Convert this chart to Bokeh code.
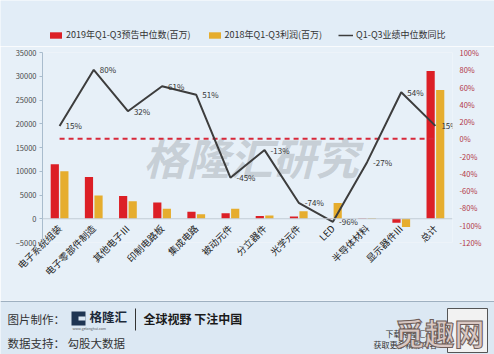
import math
from bokeh.plotting import figure
from bokeh.models import (Range1d, LinearAxis, FixedTicker, PrintfTickFormatter, Span,
                          Legend, LegendItem, Label, ColumnDataSource, FactorRange)
from bokeh.layouts import column
from bokeh.core.properties import value
from bokeh.transform import dodge
from bokeh.embed import file_html
from bokeh.resources import INLINE

# ---------------- data ----------------
categories = ["电子系统组装", "电子零部件制造", "其他电子Ⅲ", "印制电路板", "集成电路", "被动元件",
              "分立器件", "光学元件", "LED", "半导体材料", "显示器件Ⅲ", "总计"]
forecast_2019 = [11500, 8800, 4800, 3400, 1450, 1150, 600, 450, 130, 100, -850, 31100]
profit_2018 = [10000, 4900, 3700, 2100, 950, 2100, 700, 1600, 3300, 140, -1750, 27100]
yoy_pct = [15, 80, 32, 61, 51, -45, -13, -74, -96, -27, 54, 15]
left_ticks = [-5000, 0, 5000, 10000, 15000, 20000, 25000, 30000, 35000]
right_ticks = [-120, -100, -80, -60, -40, -20, 0, 20, 40, 60, 80, 100]
baseline_pct = 0
series_names = ["2019年Q1-Q3预告中位数(百万)", "2018年Q1-Q3利润(百万)", "Q1-Q3业绩中位数同比"]

FONT = "Noto Sans CJK SC"
RED = "#dc1f26"
GOLD = "#e6ad2e"
LINE = "#3d3d3d"
BG = "#e7f0f8"

src = ColumnDataSource(dict(
    cat=categories, f19=forecast_2019, p18=profit_2018, pct=yoy_pct,
    pct_label=[f"{v}%" for v in yoy_pct],
))

# ---------------- header (legend) ----------------
h = figure(x_range=Range1d(0, 1), y_range=Range1d(0, 1), width=494, height=46,
           output_backend="svg", toolbar_location=None, x_axis_type=None, y_axis_type=None,
           min_border=0)
h.frame_align = False
h.background_fill_color = "#e2edf7"
h.border_fill_color = "#e2edf7"
h.outline_line_color = None
h.xgrid.visible = False
h.ygrid.visible = False
# legend proxies placed outside the visible range
lr_red = h.vbar(x=[5], top=[5], bottom=[4], width=0.1, color=RED, line_color=None)
lr_gold = h.vbar(x=[5], top=[5], bottom=[4], width=0.1, color=GOLD, line_color=None)
lr_line = h.line(x=[5, 6], y=[5, 5], line_color=LINE, line_width=1.5)
legend = Legend(items=[LegendItem(label=series_names[0], renderers=[lr_red]),
                       LegendItem(label=series_names[1], renderers=[lr_gold]),
                       LegendItem(label=series_names[2], renderers=[lr_line])],
                orientation="horizontal", location=(48, 5), spacing=16,
                glyph_width=15, glyph_height=8, label_standoff=3, padding=0, margin=0,
                border_line_color=None, background_fill_alpha=0,
                label_text_font=FONT, label_text_font_size="9px", label_text_color="#333333",
                label_height=10)
h.add_layout(legend, "center")

# ---------------- main chart ----------------
p = figure(x_range=FactorRange(*categories), y_range=Range1d(-5000, 35000),
           width=494, height=254, output_backend="svg", toolbar_location=None,
           min_border_left=42, min_border_right=42, min_border_top=6, min_border_bottom=58)
p.frame_align = False
p.extra_y_ranges = {"pct": Range1d(-120, 100)}
p.background_fill_color = BG
p.border_fill_color = BG
p.outline_line_color = None
p.xgrid.visible = False
p.ygrid.visible = False

wm = Label(x=101, y=87, x_units="screen", y_units="screen", text="格隆汇研究",
           text_font=FONT, text_font_size="43px", text_font_style="bold italic",
           text_color="#9a9fa5", text_alpha=0.42, text_baseline="middle", level="underlay")
p.add_layout(wm)

p.add_layout(Span(location=0, dimension="width", line_color="#c2ccd6", line_width=1))

p.vbar(x=dodge("cat", -0.14, range=p.x_range), top="f19", width=0.24, source=src,
       color=RED, line_color=None)
p.vbar(x=dodge("cat", 0.14, range=p.x_range), top="p18", width=0.24, source=src,
       color=GOLD, line_color=None)

p.line(x=[categories[0], categories[-1]], y=[baseline_pct, baseline_pct], y_range_name="pct",
       line_color="#d8283a", line_width=2, line_dash="5 4")

p.line(x="cat", y="pct", source=src, y_range_name="pct", line_color=LINE, line_width=2)
p.text(x="cat", y="pct", text="pct_label", source=src, y_range_name="pct", x_offset=6,
       text_font=value(FONT), text_font_size="8px", text_color="#333333", text_baseline="middle")

xa = p.xaxis[0]
xa.axis_line_color = None
xa.major_tick_line_color = None
xa.major_tick_out = 0
xa.major_tick_in = 0
xa.major_label_orientation = math.pi / 4
xa.major_label_standoff = -16
xa.major_label_text_font = FONT
xa.major_label_text_font_size = "9.5px"
xa.major_label_text_color = "#222222"

ya = p.yaxis[0]
ya.ticker = FixedTicker(ticks=left_ticks)
ya.axis_line_color = "#a9bccd"
ya.major_tick_line_color = "#a9bccd"
ya.major_tick_out = 3
ya.major_tick_in = 0
ya.minor_tick_line_color = None
ya.major_label_standoff = 3
ya.major_label_text_font = FONT
ya.major_label_text_font_size = "7.5px"
ya.major_label_text_color = "#4a4a4a"

ra = LinearAxis(y_range_name="pct", ticker=FixedTicker(ticks=right_ticks),
                formatter=PrintfTickFormatter(format="%d%%"))
ra.axis_line_color = None
ra.major_tick_line_color = None
ra.minor_tick_line_color = None
ra.major_tick_out = 0
ra.major_tick_in = 0
ra.major_label_standoff = 7
ra.major_label_text_font = FONT
ra.major_label_text_font_size = "7.5px"
ra.major_label_text_color = "#b23545"
p.add_layout(ra, "right")

# ---------------- footer ----------------
f = figure(x_range=Range1d(0, 494), y_range=Range1d(0, 54), width=494, height=54,
           output_backend="svg", toolbar_location=None, x_axis_type=None, y_axis_type=None,
           min_border=0)
f.frame_align = False
f.background_fill_color = "#dce8f3"
f.border_fill_color = "#dce8f3"
f.outline_line_color = None
f.xgrid.visible = False
f.ygrid.visible = False

f.segment(x0=[0], y0=[53], x1=[494], y1=[53], line_color="#9fb0c0", line_width=1)
f.text(x=[7, 7], y=[36, 12], text=["图片制作：", "数据支持：  勾股大数据"],
       text_font=value(FONT), text_font_size="11.5px", text_color="#333333", text_baseline="middle")
# logo icon
f.quad(left=[71], right=[85], bottom=[29], top=[43], fill_color="#1f3552", line_color=None)
f.quad(left=[78], right=[85], bottom=[34], top=[38], fill_color="#dce8f3", line_color=None)
f.text(x=[89], y=[38], text=["格隆汇"], text_font=value(FONT), text_font_size="12.5px",
       text_font_style="bold", text_color="#1d2a3a", text_baseline="middle")
f.text(x=[72], y=[26], text=["www.gelonghui.com"], text_font=value(FONT), text_font_size="3.5px",
       text_color="#555555", text_baseline="middle")
f.segment(x0=[135], y0=[46], x1=[135], y1=[24], line_color="#333333", line_width=1)
f.text(x=[143], y=[36], text=["全球视野 下注中国"], text_font=value(FONT), text_font_size="12px",
       text_font_style="bold", text_color="#1a1a1a", text_baseline="middle")
f.text(x=[385, 373], y=[21, 10], text=["下载格隆汇APP", "获取更多精彩内容"], text_font=value(FONT),
       text_font_size="8px", text_color="#333333", text_baseline="middle")
f.quad(left=[447], right=[487], bottom=[2], top=[46], fill_color="#f2f2f2", line_color="#555555",
       line_width=1)
f.text(x=[394], y=[23], text=["觅趣网"], text_font=value(FONT), text_font_size="30px",
       text_font_style="bold", text_color="#d9c8c3", text_outline_color="#6e5d58",
       text_baseline="middle")

layout = column(h, p, f, spacing=0)
open("out.html", "w").write(file_html(layout, INLINE))
